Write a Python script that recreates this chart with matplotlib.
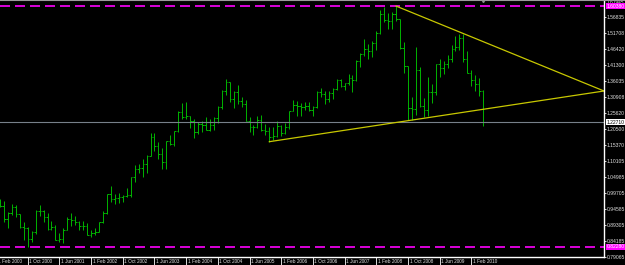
import numpy as np
import matplotlib
matplotlib.use("Agg")
import matplotlib.pyplot as plt
import matplotlib.transforms as mtransforms
from matplotlib.collections import LineCollection

plt.rcParams['font.family'] = ['Liberation Sans Narrow', 'Liberation Sans', 'DejaVu Sans']

# monthly bars, Feb 2000 .. May 2010 (index 0 = Feb 2000)
opens = [0.9700, 0.9650, 0.9570, 0.9130, 0.9330, 0.9520, 0.9290, 0.8880, 0.8830, 0.8480, 0.8720,
         0.9400, 0.9380, 0.9210, 0.8800, 0.8870, 0.8460, 0.8490, 0.8770, 0.9140, 0.9110, 0.9030, 0.8910,
         0.8900, 0.8610, 0.8680, 0.8720, 0.9020, 0.9340, 0.9930, 0.9770, 0.9810, 0.9860, 0.9890, 0.9920,
         1.0490, 1.0760, 1.0790, 1.0910, 1.1170, 1.1780, 1.1500, 1.1250, 1.0990, 1.1650, 1.1580, 1.1980,
         1.2590, 1.2450, 1.2470, 1.2300, 1.1970, 1.2200, 1.2170, 1.2020, 1.2180, 1.2420, 1.2760, 1.3280,
         1.3560, 1.3040, 1.3260, 1.2960, 1.2860, 1.2320, 1.2110, 1.2120, 1.2340, 1.2030, 1.1990, 1.1790,
         1.1840, 1.2160, 1.1920, 1.2120, 1.2620, 1.2820, 1.2790, 1.2770, 1.2810, 1.2680, 1.2760, 1.3250,
         1.3200, 1.3030, 1.3230, 1.3360, 1.3650, 1.3450, 1.3530, 1.3700, 1.3640, 1.4260, 1.4490, 1.4650,
         1.4590, 1.4850, 1.5180, 1.5790, 1.5600, 1.5540, 1.5770, 1.5610, 1.4680, 1.4090, 1.2730, 1.2690,
         1.3970, 1.2800, 1.2670, 1.3250, 1.3240, 1.4150, 1.4040, 1.4160, 1.4330, 1.4630, 1.4720, 1.5010,
         1.4320, 1.3860, 1.3630, 1.3510, 1.3290]
highs = [0.9900, 0.9790, 0.9700, 0.9350, 0.9620, 0.9580, 0.9290, 0.9020, 0.8860, 0.8750, 0.9420,
         0.9590, 0.9420, 0.9330, 0.9070, 0.8950, 0.8690, 0.8830, 0.9200, 0.9340, 0.9230, 0.9070, 0.9070,
         0.9000, 0.8770, 0.8850, 0.9040, 0.9380, 0.9950, 1.0200, 0.9950, 0.9960, 0.9910, 1.0140, 1.0500,
         1.0880, 1.0930, 1.1080, 1.1200, 1.1930, 1.1930, 1.1640, 1.1430, 1.1660, 1.1850, 1.2000, 1.2630,
         1.2900, 1.2930, 1.2470, 1.2390, 1.2280, 1.2320, 1.2430, 1.2360, 1.2440, 1.2810, 1.3300, 1.3670,
         1.3580, 1.3290, 1.3480, 1.3100, 1.2980, 1.2430, 1.2190, 1.2480, 1.2500, 1.2200, 1.2120, 1.2100,
         1.2320, 1.2180, 1.2240, 1.2650, 1.2980, 1.2960, 1.2900, 1.2920, 1.2920, 1.2800, 1.3280, 1.3370,
         1.3270, 1.3270, 1.3390, 1.3680, 1.3660, 1.3550, 1.3850, 1.3800, 1.4280, 1.4500, 1.4970, 1.4800,
         1.4900, 1.5240, 1.5900, 1.6020, 1.5810, 1.5840, 1.6038, 1.5620, 1.4870, 1.4090, 1.3080, 1.4720,
         1.4060, 1.3070, 1.3740, 1.3500, 1.4150, 1.4330, 1.4260, 1.4440, 1.4770, 1.5060, 1.5140, 1.5140,
         1.4580, 1.3980, 1.3790, 1.3690, 1.3300]
lows = [0.9620, 0.9520, 0.9040, 0.8840, 0.9270, 0.9200, 0.8850, 0.8460, 0.8228, 0.8400, 0.8650,
        0.9220, 0.9050, 0.8760, 0.8760, 0.8440, 0.8380, 0.8350, 0.8760, 0.8900, 0.8940, 0.8760, 0.8760,
        0.8600, 0.8560, 0.8600, 0.8700, 0.9010, 0.9300, 0.9680, 0.9630, 0.9640, 0.9690, 0.9860, 0.9860,
        1.0340, 1.0630, 1.0500, 1.0620, 1.1170, 1.1350, 1.1080, 1.0770, 1.0770, 1.1530, 1.1500, 1.1950,
        1.2360, 1.2360, 1.2080, 1.1760, 1.1900, 1.1960, 1.2020, 1.1980, 1.2010, 1.2260, 1.2700, 1.3170,
        1.2930, 1.2730, 1.2850, 1.2780, 1.2320, 1.1950, 1.1870, 1.2080, 1.1990, 1.1870, 1.1640, 1.1710,
        1.1800, 1.1820, 1.1880, 1.2060, 1.2620, 1.2460, 1.2470, 1.2660, 1.2620, 1.2480, 1.2720, 1.3090,
        1.2860, 1.2930, 1.3040, 1.3320, 1.3410, 1.3300, 1.3480, 1.3260, 1.3620, 1.4060, 1.4420, 1.4330,
        1.4400, 1.4600, 1.5140, 1.5520, 1.5290, 1.5300, 1.5560, 1.4660, 1.3880, 1.2330, 1.2330, 1.2490,
        1.2750, 1.2450, 1.2460, 1.2880, 1.3160, 1.3730, 1.3850, 1.4040, 1.4220, 1.4580, 1.4610, 1.4220,
        1.3860, 1.3440, 1.3270, 1.3110, 1.2140]
closes = opens[1:] + [1.2271]

date_labels = ['1 Feb 2000', '1 Oct 2000', '1 Jun 2001', '1 Feb 2002', '1 Oct 2002', '1 Jun 2003',
               '1 Feb 2004', '1 Oct 2004', '1 Jun 2005', '1 Feb 2006', '1 Oct 2006', '1 Jun 2007',
               '1 Feb 2008', '1 Oct 2008', '1 Jun 2009', '1 Feb 2010']
price_ticks = [1.61945, 1.56835, 1.51708, 1.46420, 1.41300, 1.36035, 1.30908, 1.25620, 1.20500,
               1.15370, 1.10105, 1.04985, 0.99705, 0.94585, 0.89305, 0.84185, 0.79065]

high_level = 1.6038
low_level = 0.8228
last_price = 1.2271
# triangle: two trendlines meeting at the right edge
upper_line = ([101, 153.5], [1.6038, 1.3284])
lower_line = ([69, 153.5], [1.1640, 1.3284])

W, H = 625, 265
fig = plt.figure(figsize=(W / 100, H / 100), dpi=100, facecolor='black')
ax = fig.add_axes([0, 8 / H, 604 / W, 257 / H], facecolor='black')

n = len(opens)
x = np.arange(n)
segs = []
for i in range(n):
    segs.append([(x[i], lows[i]), (x[i], highs[i])])
    segs.append([(x[i] - 0.4, opens[i]), (x[i], opens[i])])
    segs.append([(x[i], closes[i]), (x[i] + 0.4, closes[i])])
ax.add_collection(LineCollection(segs, colors='#00b400', linewidths=0.7))

ax.axhline(high_level, color='#ff00ff', lw=1.2, dashes=(6, 3))
ax.axhline(low_level, color='#ff00ff', lw=1.2, dashes=(6, 3))
ax.axhline(last_price, color='#77808a', lw=0.8)
ax.plot(*upper_line, color='#c8c800', lw=0.9)
ax.plot(*lower_line, color='#c8c800', lw=0.9)

ax.set_xlim(1.0, 153.5)
ax.set_ylim(0.7900, 1.6235)

for s in ['top', 'left']:
    ax.spines[s].set_visible(False)
for s in ['bottom', 'right']:
    ax.spines[s].set_color('white')
    ax.spines[s].set_linewidth(1)

# right price scale
ax.set_xticks([])
ax.yaxis.tick_right()
ax.set_yticks(price_ticks[1:])
ax.set_yticklabels(['%.5f' % p for p in price_ticks[1:]])
ax.tick_params(axis='y', colors='white', labelcolor='#e0e0e0', length=1.5, width=0.6,
               pad=0.5, labelsize=3.6)
# top label sits at the frame edge
ax.text(1.004, 1.0, '%.5f' % price_ticks[0], transform=ax.transAxes,
        fontsize=3.4, color='#e0e0e0', va='top', ha='left', clip_on=False)

def price_box(val, face, fg):
    ax.text(1.004, val, '%.5f' % val, transform=ax.get_yaxis_transform(), fontsize=3.6,
            color=fg, va='center', ha='left', clip_on=False,
            bbox=dict(boxstyle='square,pad=0.05', fc=face, ec='none'))

price_box(high_level, '#ff00ff', 'white')
price_box(low_level, '#ff00ff', 'white')
price_box(last_price, 'white', 'black')

# date scale
tr = mtransforms.blended_transform_factory(ax.transData, ax.transAxes)
for k, lab in enumerate(date_labels):
    xi = 8 * k
    ax.plot([xi, xi], [0, -0.03], color='white', lw=0.6, transform=tr, clip_on=False)
    ax.text(xi + 0.4, -0.018, lab, transform=tr, fontsize=3.4, color='#e0e0e0',
            ha='left', va='center', clip_on=False)

# chart shift marker and top frame
ax.plot([123], [1.0], marker='v', ms=3, color='#909090', transform=tr, clip_on=False)
fig.add_artist(plt.Line2D([0, 1], [1, 1], transform=fig.transFigure, color='#9a9a9a', lw=1.5))

fig.savefig('out.png', dpi=100, facecolor='black')
